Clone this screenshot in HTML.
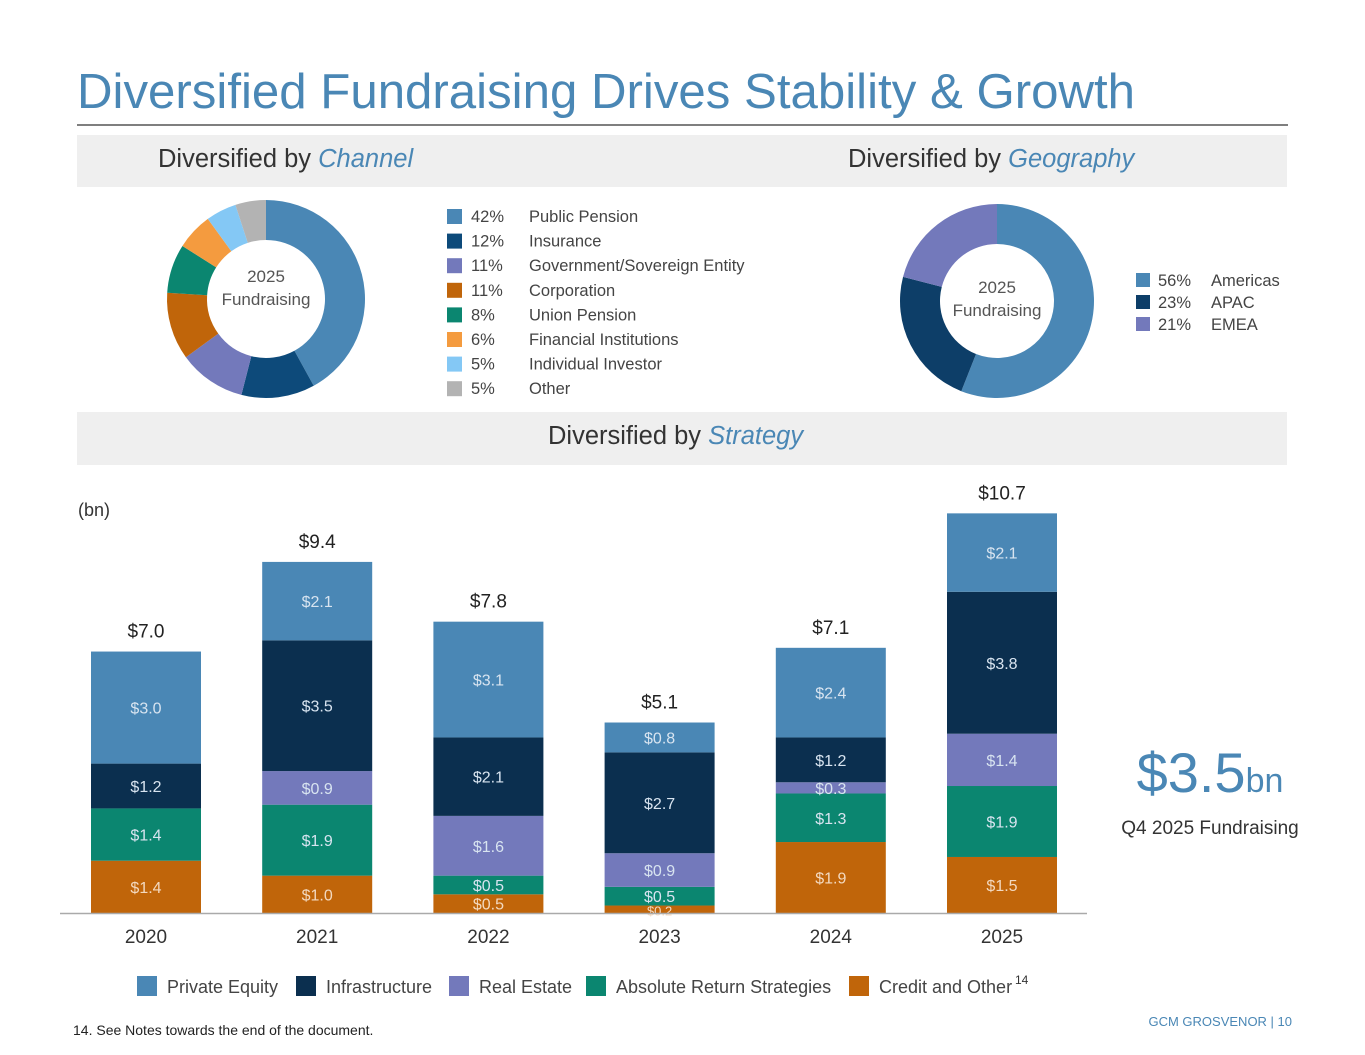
<!DOCTYPE html>
<html><head><meta charset="utf-8"><style>
body{margin:0;background:#fff;}
svg{display:block;font-family:"Liberation Sans",sans-serif;}
</style></head><body>
<svg id="s" width="1365" height="1055" viewBox="0 0 1365 1055">
<text x="77" y="108" font-size="49" fill="#4a87b5" textLength="1058" lengthAdjust="spacingAndGlyphs">Diversified Fundraising Drives Stability &amp; Growth</text>
<line x1="77" y1="125" x2="1288" y2="125" stroke="#555" stroke-width="1.5"/>
<rect x="77" y="135" width="1210" height="52" fill="#efefef"/>
<text x="158" y="167" font-size="25.5" fill="#333">Diversified by <tspan fill="#4a87b5" font-style="italic">Channel</tspan></text>
<text x="848" y="167" font-size="25.5" fill="#333">Diversified by <tspan fill="#4a87b5" font-style="italic">Geography</tspan></text>
<rect x="77" y="412" width="1210" height="53" fill="#efefef"/>
<text x="548" y="444" font-size="25.5" fill="#333">Diversified by <tspan fill="#4a87b5" font-style="italic">Strategy</tspan></text>
<g id="d1"></g>
<text x="266" y="282" font-size="17" fill="#555" text-anchor="middle">2025</text>
<text x="266" y="305" font-size="17" fill="#555" text-anchor="middle">Fundraising</text>
<g id="l1"></g>
<g id="d2"></g>
<text x="997" y="293" font-size="17" fill="#555" text-anchor="middle">2025</text>
<text x="997" y="316" font-size="17" fill="#555" text-anchor="middle">Fundraising</text>
<g id="l2"></g>
<text x="78" y="516" font-size="18" fill="#333">(bn)</text>
<g id="bars"></g>
<line x1="60" y1="913.5" x2="1087" y2="913.5" stroke="#aaa" stroke-width="1.5"/>
<g id="leg"></g>
<text x="1210" y="792" font-size="56" fill="#4a87b5" text-anchor="middle">$3.5<tspan font-size="34">bn</tspan></text>
<text x="1210" y="834" font-size="19" fill="#333" text-anchor="middle">Q4 2025 Fundraising</text>
<text x="73" y="1035" font-size="14" fill="#222">14. See Notes towards the end of the document.</text>
<text x="1292" y="1026" font-size="13" fill="#4a87b5" text-anchor="end">GCM GROSVENOR | 10</text>
</svg>
<script>
const NS="http://www.w3.org/2000/svg";
const chLabels=["Public Pension","Insurance","Government/Sovereign Entity","Corporation","Union Pension","Financial Institutions","Individual Investor","Other"];
const chValues=[42,12,11,11,8,6,5,5];
const chColors=["#4a87b5","#0d4a7a","#7379bb","#c0650a","#0b8670","#f49b3f","#84c8f5","#b3b3b3"];
const geoLabels=["Americas","APAC","EMEA"];
const geoValues=[56,23,21];
const geoColors=["#4a87b5","#0d3e68","#7379bb"];
const years=["2020","2021","2022","2023","2024","2025"];
const seriesNames=["Credit and Other","Absolute Return Strategies","Real Estate","Infrastructure","Private Equity"];
const credit=[1.4,1.0,0.5,0.2,1.9,1.5];
const absRet=[1.4,1.9,0.5,0.5,1.3,1.9];
const realEst=[0,0.9,1.6,0.9,0.3,1.4];
const infra=[1.2,3.5,2.1,2.7,1.2,3.8];
const privEq=[3.0,2.1,3.1,0.8,2.4,2.1];
const totals=[7.0,9.4,7.8,5.1,7.1,10.7];
const sColors=["#c0650a","#0b8670","#7379bb","#0b2f4f","#4a87b5"];
function mk(tag,at,parent){const e=document.createElementNS(NS,tag);for(const k in at)e.setAttribute(k,at[k]);parent.appendChild(e);return e;}
function donut(g,vals,cols,cx,cy,R,r,nm){
  const tot=vals.reduce((a,b)=>a+b,0);let a0=0;
  vals.forEach((v,i)=>{const a1=a0+v/tot*2*Math.PI;
    const p=(a,rad)=>[cx+rad*Math.sin(a),cy-rad*Math.cos(a)];
    const [x0,y0]=p(a0,R),[x1,y1]=p(a1,R),[x2,y2]=p(a1,r),[x3,y3]=p(a0,r);const lg=(a1-a0)>Math.PI?1:0;
    const e=mk("path",{d:`M${x0},${y0}A${R},${R} 0 ${lg} 1 ${x1},${y1}L${x2},${y2}A${r},${r} 0 ${lg} 0 ${x3},${y3}Z`,fill:cols[i]},g);
    
    
    a0=a1;});
}
donut(document.getElementById("d1"),chValues,chColors,266,299,99,59,"channel");
donut(document.getElementById("d2"),geoValues,geoColors,997,301,97,57,"geography");
const l1=document.getElementById("l1");
chLabels.forEach((t,i)=>{const y=216+i*24.6;
  const r=mk("rect",{x:447,y:y-7,width:15,height:15,fill:chColors[i]},l1);
  
  
  const a=mk("text",{x:471,y:y+6,"font-size":16.5,fill:"#444"},l1);a.textContent=chValues[i]+"%";
  
  
  const b=mk("text",{x:529,y:y+6,"font-size":16.5,fill:"#444"},l1);b.textContent=t;
  
  
});
const l2=document.getElementById("l2");
geoLabels.forEach((t,i)=>{const y=280+i*22;
  const r=mk("rect",{x:1136,y:y-7,width:14,height:14,fill:geoColors[i]},l2);
  
  
  const a=mk("text",{x:1158,y:y+6,"font-size":16.5,fill:"#444"},l2);a.textContent=geoValues[i]+"%";
  
  
  const b=mk("text",{x:1211,y:y+6,"font-size":16.5,fill:"#444"},l2);b.textContent=t;
  
  
});
const base=913,scale=37.35,x0=91,step=171.2,bw=110;
const yS=v=>base-v*scale;
const series=[credit,absRet,realEst,infra,privEq];
const bg=document.getElementById("bars");
years.forEach((yr,i)=>{
  let acc=0;const x=x0+i*step;
  series.forEach((s,k)=>{const v=s[i];if(v<=0)return;
    const y1=yS(acc),y2=yS(acc+v);
    const r=mk("rect",{x:x,y:y2,width:bw,height:y1-y2,fill:sColors[k]},bg);
    
    
    const t=mk("text",{x:x+bw/2,y:(y1+y2)/2+6,"font-size":v<0.3?13:16,fill:k==0?"#f3d9c0":"#d8e4f0","text-anchor":"middle"},bg);
    t.textContent="$"+v.toFixed(1);
    
    
    acc+=v;});
  const tt=mk("text",{x:x+bw/2,y:yS(totals[i])-14,"font-size":19,fill:"#222","text-anchor":"middle"},bg);
  tt.textContent="$"+totals[i].toFixed(1);
  
  
  const xl=mk("text",{x:x+bw/2,y:943,"font-size":19,fill:"#333","text-anchor":"middle"},bg);
  xl.textContent=yr;
  
  
});
const lg=document.getElementById("leg");
const legOrder=[4,3,2,1,0];const legX=[137,296,449,586,849];
legOrder.forEach((k,j)=>{
  const r=mk("rect",{x:legX[j],y:976,width:20,height:20,fill:sColors[k]},lg);
  
  
  const t=mk("text",{x:legX[j]+30,y:993,"font-size":18,fill:"#444"},lg);t.textContent=seriesNames[k];
  
  
});
const sup=mk("text",{x:1015,y:984,"font-size":12,fill:"#333"},lg);sup.textContent="14";


</script>
</body></html>
